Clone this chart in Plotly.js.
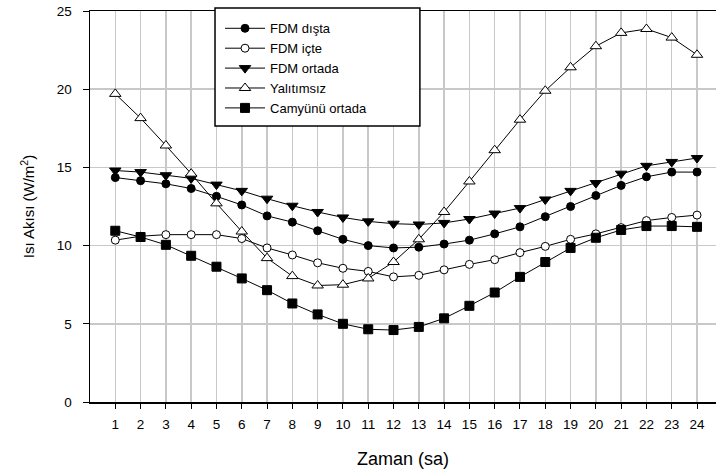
<!DOCTYPE html>
<html><head><meta charset="utf-8">
<script src="https://cdn.plot.ly/plotly-3.0.1.min.js"></script>
<style>html,body{margin:0;padding:0;background:#fff;overflow:hidden}</style>
</head><body>
<div id="chart" style="width:716px;height:472px"></div>
<script>
const hours = [1,2,3,4,5,6,7,8,9,10,11,12,13,14,15,16,17,18,19,20,21,22,23,24];
const fdmDista = [14.35,14.15,13.95,13.65,13.15,12.6,11.9,11.5,10.95,10.4,10.0,9.85,9.9,10.1,10.35,10.75,11.2,11.85,12.5,13.2,13.85,14.4,14.7,14.7];
const fdmIcte = [10.35,10.6,10.7,10.7,10.7,10.45,9.85,9.4,8.9,8.55,8.35,8.0,8.1,8.45,8.8,9.1,9.55,9.95,10.4,10.75,11.15,11.6,11.8,11.95];
const fdmOrtada = [14.8,14.7,14.5,14.3,13.9,13.5,13.0,12.55,12.15,11.8,11.55,11.4,11.35,11.45,11.7,12.05,12.4,12.95,13.5,14.0,14.6,15.1,15.35,15.6];
const yalitimsiz = [19.7,18.15,16.4,14.6,12.7,10.9,9.2,8.05,7.45,7.5,7.9,8.95,10.4,12.15,14.1,16.1,18.05,19.9,21.4,22.75,23.6,23.85,23.3,22.2];
const camyunu = [10.95,10.55,10.05,9.35,8.65,7.9,7.15,6.3,5.6,5.0,4.65,4.6,4.8,5.35,6.15,7.0,8.0,8.95,9.85,10.5,11.0,11.25,11.25,11.2];
const seriesNames = ["FDM dışta","FDM içte","FDM ortada","Yalıtımsız","Camyünü ortada"];
const xTickLabels = hours.map(String);
const yTicks = [0,5,10,15,20,25];

const seriesData = [fdmDista, fdmIcte, fdmOrtada, yalitimsiz, camyunu];
const markers = [
  {symbol:"circle", size:8, color:"#000", line:{color:"#000",width:1}},
  {symbol:"circle", size:8, color:"#fff", line:{color:"#000",width:1}},
  {symbol:"triangle-down", size:10, color:"#000", line:{color:"#000",width:1}},
  {symbol:"triangle-up", size:10, color:"#fff", line:{color:"#000",width:1}},
  {symbol:"square", size:9, color:"#000", line:{color:"#000",width:1}}
];
const traces = seriesData.map((ys,i)=>({
  x: hours, y: ys, name: seriesNames[i], type:"scatter", mode:"lines+markers",
  line:{color:"#000", width:1}, marker: markers[i]
}));

const layout = {
  width:716, height:472,
  margin:{l:90, r:0, t:11, b:70},
  paper_bgcolor:"#fff", plot_bgcolor:"#fff",
  font:{family:"Liberation Sans, Arial, sans-serif", size:13, color:"#000"},
  showlegend:true,
  legend:{x:0.2077, y:0.994, xanchor:"left", yanchor:"top", bgcolor:"rgba(0,0,0,0)",
    borderwidth:0, font:{size:13, color:"#000"}, tracegroupgap:0, itemwidth:40},
  shapes:[{type:"rect", xref:"paper", yref:"paper", x0:0.1997, x1:0.527, y0:0.7059, y1:1.0077,
    line:{color:"#000", width:1.5}, fillcolor:"#fff", layer:"above"}],
  xaxis:{range:[0,24.75], tickvals:hours, ticktext:xTickLabels, ticks:"outside", ticklen:5,
    tickcolor:"#000", showgrid:true, gridcolor:"#c8c8c8", gridwidth:1.5, zeroline:false,
    showline:true, linecolor:"#000", linewidth:1.5, mirror:true, ticklabelstandoff:4,
    title:{text:"Zaman (sa)", font:{size:18}, standoff:21}, tickfont:{size:13.5}},
  yaxis:{range:[0,25], tickvals:yTicks, ticks:"outside", ticklen:6,
    tickcolor:"#000", showgrid:true, gridcolor:"#c8c8c8", gridwidth:1.5, zeroline:false,
    showline:true, linecolor:"#000", linewidth:1.5, ticklabelstandoff:8,
    title:{text:"Isı Akısı (W/m<sup>2</sup>)", font:{size:15}, standoff:18}, tickfont:{size:13.5}}
};
Plotly.newPlot("chart", traces, layout, {displayModeBar:false, staticPlot:true});
</script>
</body></html>
